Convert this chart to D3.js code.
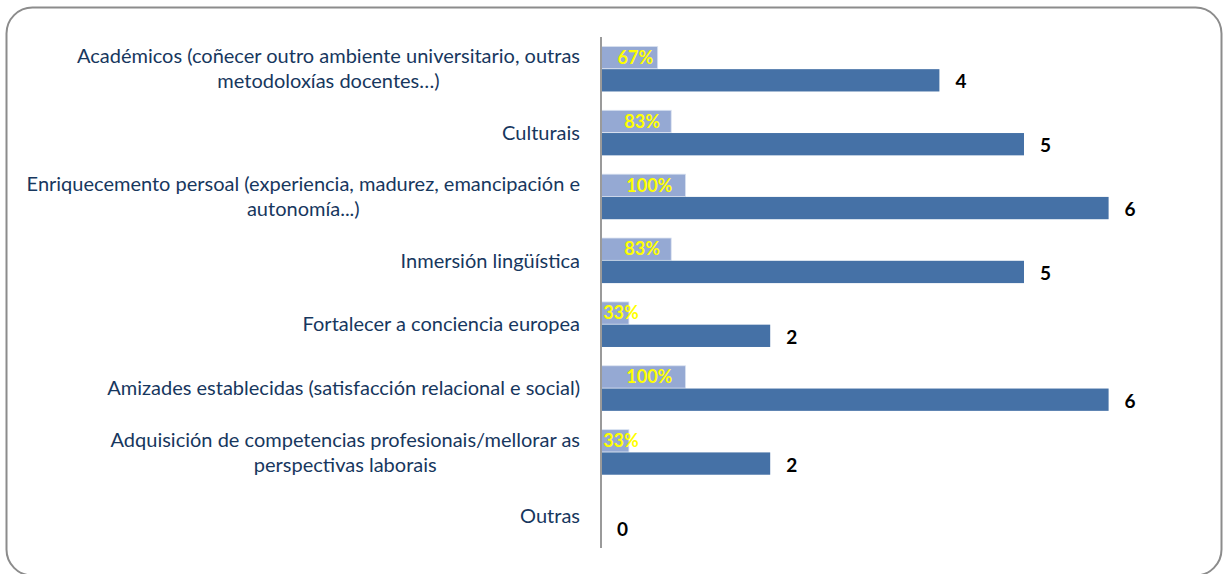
<!DOCTYPE html>
<html>
<head>
<meta charset="utf-8">
<script src="https://cdn.jsdelivr.net/npm/d3@7"></script>
<style>
  html, body { margin: 0; padding: 0; background: #fff; }
  svg { display: block; }
</style>
</head>
<body>
<svg id="chart" width="1224" height="574"></svg>
<script>
// Motivations: label lines, share of respondents and number of answers
const categories = [
  ["Académicos (coñecer outro ambiente universitario, outras", "metodoloxías docentes…)"],
  ["Culturais"],
  ["Enriquecemento persoal (experiencia, madurez, emancipación e", "autonomía...)"],
  ["Inmersión lingüística"],
  ["Fortalecer a conciencia europea"],
  ["Amizades establecidas (satisfacción relacional e social)"],
  ["Adquisición de competencias profesionais/mellorar as", "perspectivas laborais"],
  ["Outras"]
];
const shares = [0.67, 0.83, 1.00, 0.83, 0.33, 1.00, 0.33, 0];
const counts = [4, 5, 6, 5, 2, 6, 2, 0];
const seriesKeys = ["share", "count"];

const svg = d3.select("#chart");

// rounded frame
svg.append("rect")
  .attr("x", 6.5).attr("y", 7.5)
  .attr("width", 1215).attr("height", 568)
  .attr("rx", 26).attr("ry", 26)
  .attr("fill", "#fff")
  .attr("stroke", "#8c8c8c")
  .attr("stroke-width", 2);

const axisX = 601;
const x = d3.scaleLinear().domain([0, 6]).range([axisX, axisX + 6 * 84.6]);
const y = d3.scaleBand()
  .domain(d3.range(categories.length))
  .range([37, 548])
  .paddingInner(0.28)
  .paddingOuter(0.14);
const ySub = d3.scaleBand().domain(seriesKeys).range([0, y.bandwidth()]).padding(0.02);

const rows = categories.map((c, i) => ({ i, lines: c, share: shares[i], count: counts[i] }));

const g = svg.append("g");

// light bars: share of respondents
g.selectAll("rect.share").data(rows).join("rect")
  .attr("class", "share")
  .attr("x", x(0))
  .attr("y", d => y(d.i) + ySub("share"))
  .attr("width", d => x(d.share) - x(0))
  .attr("height", ySub.bandwidth())
  .attr("fill", "#95a9d3")
  .attr("stroke", "#dbe3f1")
  .attr("stroke-width", 0.8);

// dark bars: number of answers
g.selectAll("rect.count").data(rows).join("rect")
  .attr("class", "count")
  .attr("x", x(0))
  .attr("y", d => y(d.i) + ySub("count"))
  .attr("width", d => x(d.count) - x(0))
  .attr("height", ySub.bandwidth())
  .attr("fill", "#4571a6");

// vertical category axis line
svg.append("line")
  .attr("x1", axisX).attr("x2", axisX)
  .attr("y1", y.range()[0]).attr("y2", y.range()[1])
  .attr("stroke", "#9a9a9a")
  .attr("stroke-width", 2);

// percent labels inside light bars
g.selectAll("text.share").data(rows.filter(d => d.share > 0)).join("text")
  .attr("class", "share")
  .attr("x", d => (x(0) + x(d.share)) / 2 + 6)
  .attr("y", d => y(d.i) + ySub("share") + ySub.bandwidth() / 2)
  .attr("dy", "0.35em")
  .attr("text-anchor", "middle")
  .attr("font-family", "Lato, sans-serif")
  .attr("font-weight", "bold")
  .attr("font-size", 18)
  .attr("fill", "#ffff00")
  .text(d => d3.format(".0%")(d.share));

// count labels beyond dark bars
g.selectAll("text.count").data(rows).join("text")
  .attr("class", "count")
  .attr("x", d => x(d.count) + 16)
  .attr("y", d => y(d.i) + ySub("count") + ySub.bandwidth() / 2 + 1.5)
  .attr("dy", "0.35em")
  .attr("font-family", "Lato, sans-serif")
  .attr("font-weight", "bold")
  .attr("font-size", 19)
  .attr("fill", "#000")
  .text(d => d.count);

// category labels: right-aligned block, lines centred within it
const labelRight = 580;
const lineH = 25;
const labels = svg.append("g")
  .attr("font-family", "Lato, sans-serif")
  .attr("font-size", 20)
  .attr("fill", "#17375e");

rows.forEach(d => {
  const grp = labels.append("g");
  const cy = y(d.i) + y.bandwidth() / 2;
  const n = d.lines.length;
  const texts = d.lines.map((line, k) =>
    grp.append("text")
      .attr("y", cy + (k - (n - 1) / 2) * lineH)
      .attr("dy", "0.35em")
      .attr("text-anchor", "middle")
      .text(line));
  const maxW = d3.max(texts, t => t.node().getComputedTextLength());
  texts.forEach(t => t.attr("x", labelRight - maxW / 2));
});
</script>
</body>
</html>
